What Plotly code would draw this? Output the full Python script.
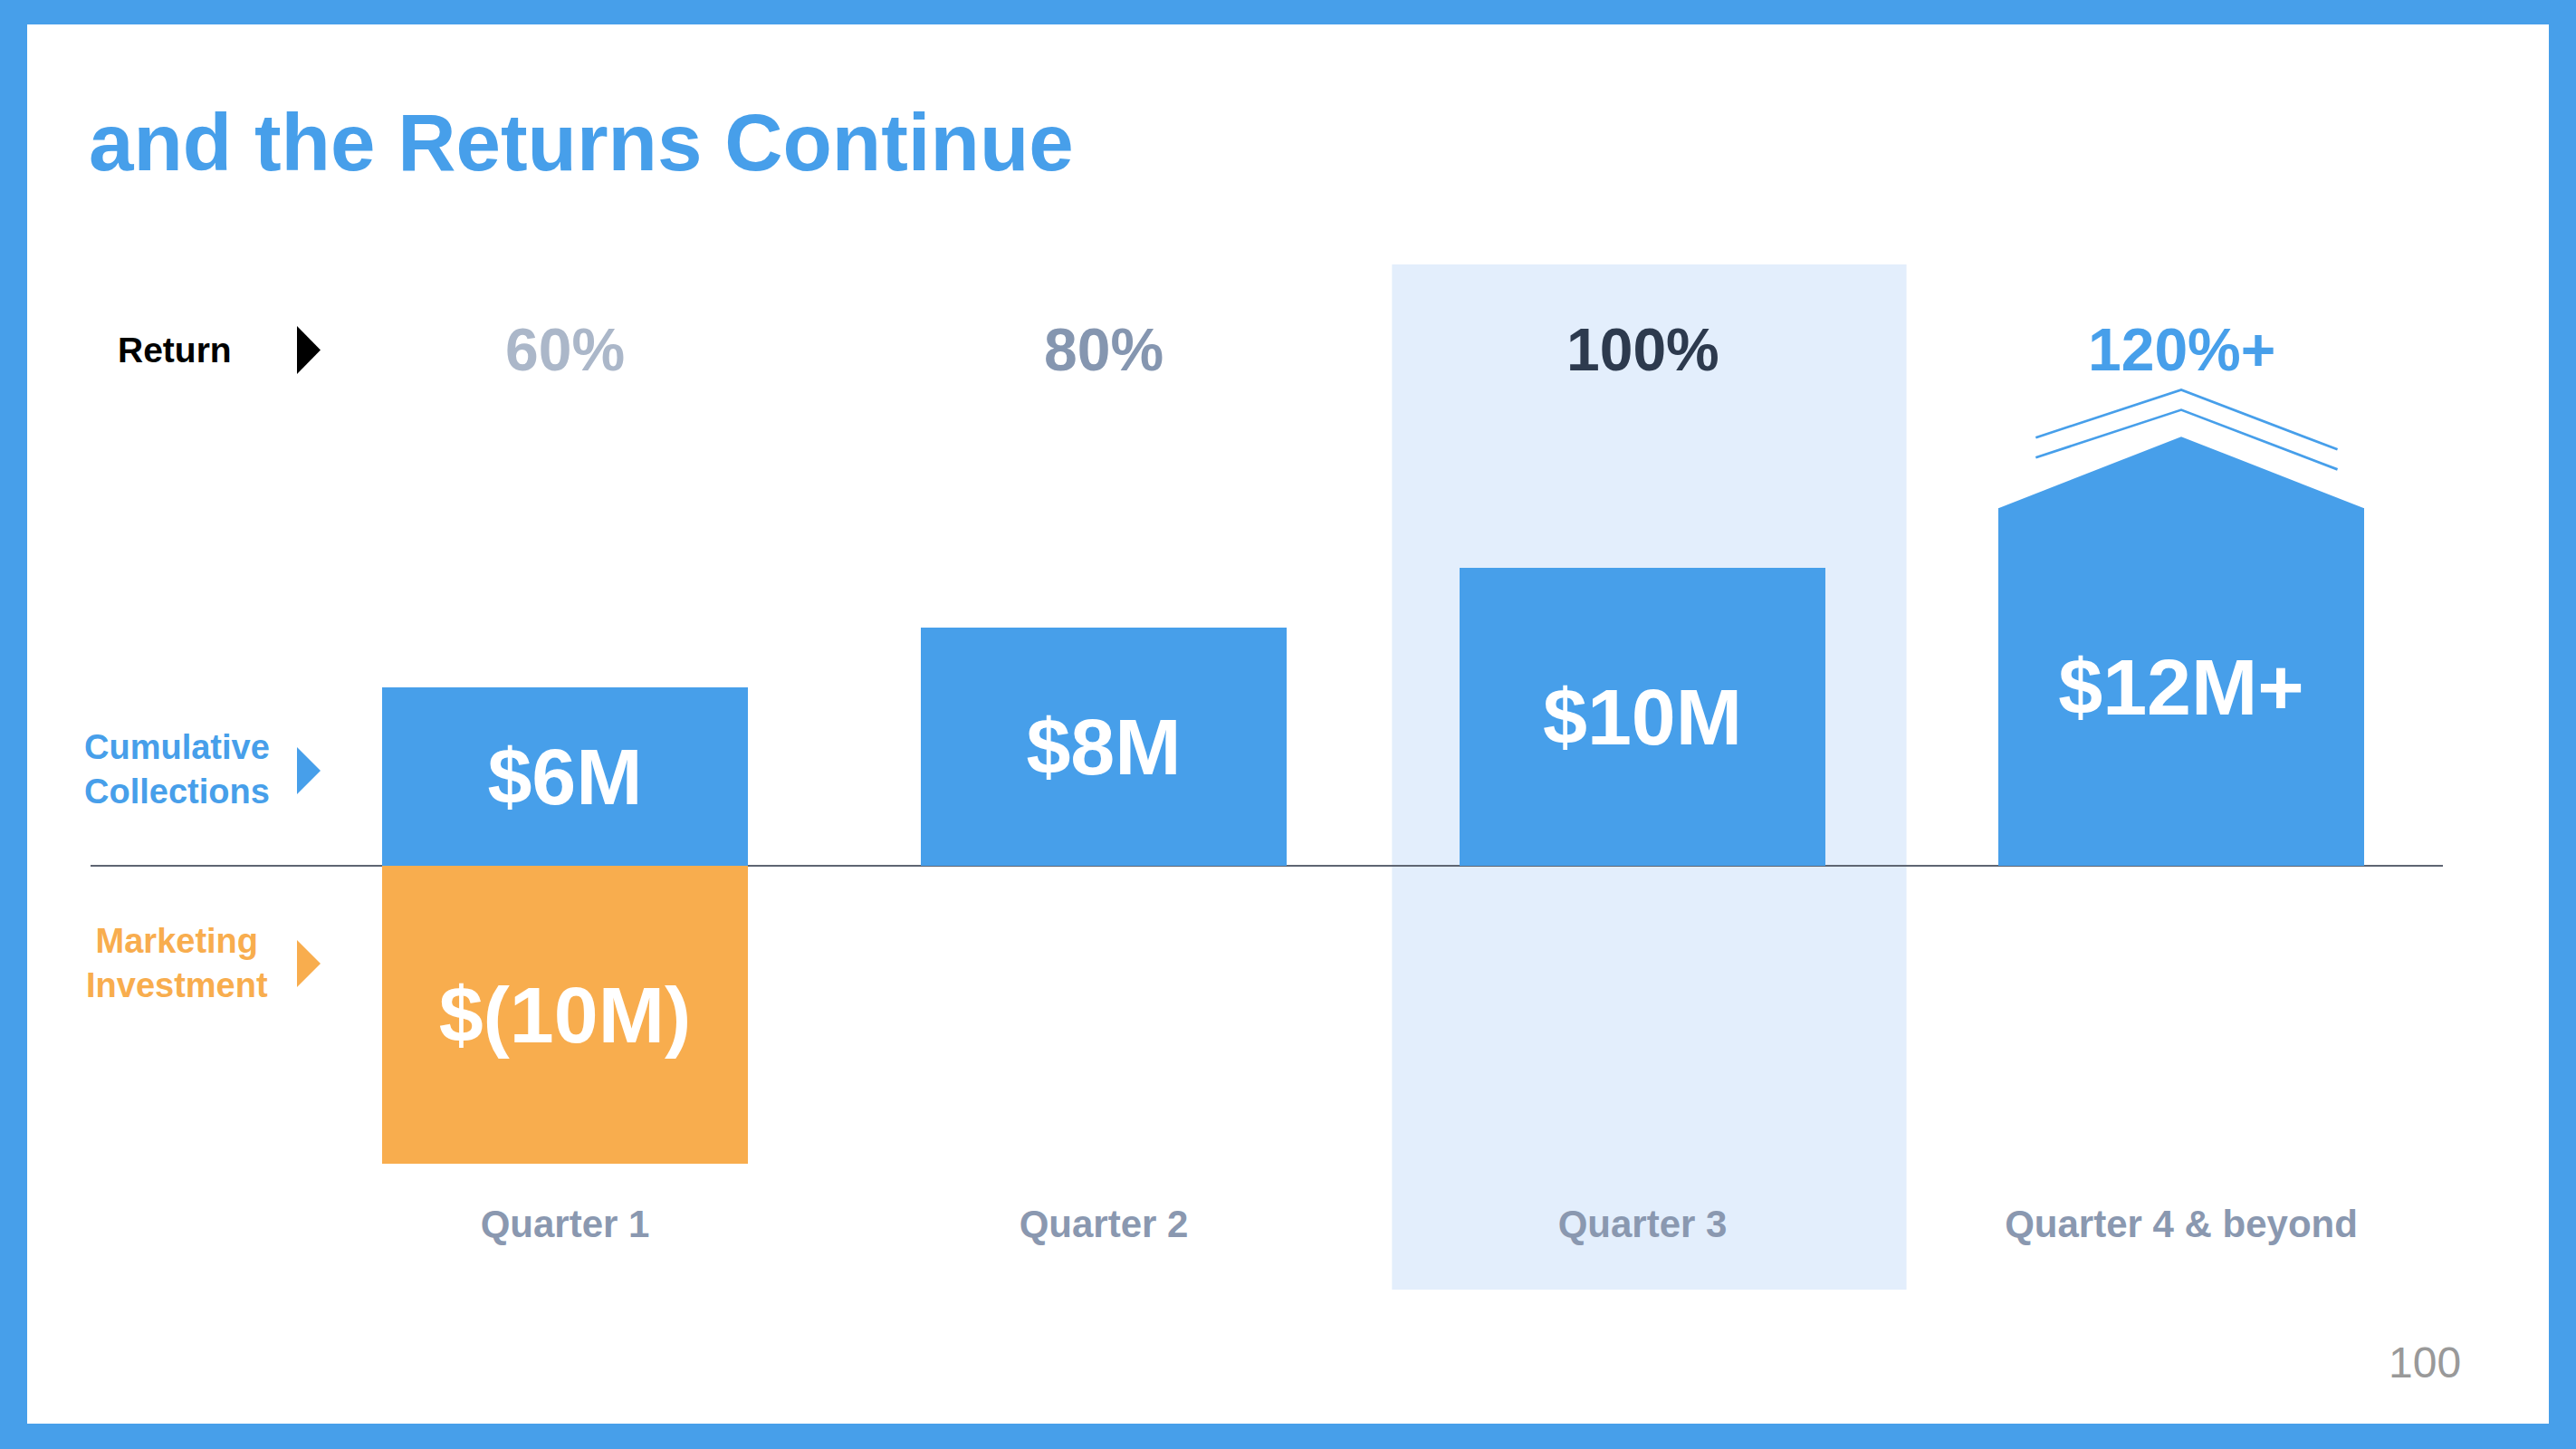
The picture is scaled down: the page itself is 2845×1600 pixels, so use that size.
import plotly.graph_objects as go

# ---------------- data ----------------
quarters = ["Quarter 1", "Quarter 2", "Quarter 3", "Quarter 4 & beyond"]
collections = [6, 8, 10, 12]                      # $M cumulative collections
collections_text = ["$6M", "$8M", "$10M", "$12M+"]
investment = [-10, None, None, None]              # $M marketing investment
investment_text = ["$(10M)", "", "", ""]
returns = ["60%", "80%", "100%", "120%+"]
highlight_index = 2
page_number = "100"

# ---------------- style ----------------
BLUE = "#479FEA"
ORANGE = "#F8AD4E"
HIGHLIGHT = "#E3EEFC"
RET_COLORS = ["#ABB7C9", "#8596B0", "#2D3A4E", BLUE]
QCOLOR = "#8A98B0"
FONT = "Liberation Sans"

W, H = 2845, 1600
L, R, T, B = 100, 2698, 292, 1300          # plot area in pixels
XR = [-0.8807, 3.4857]
YR = [-10.456, 20.18]


def px(xp):
    return (xp - L) / (R - L)


def py(yp):
    return (B - yp) / (B - T)


def dx(xv):
    return (xv - XR[0]) / (XR[1] - XR[0])


xs = list(range(len(quarters)))
BAR_W = 0.679

fig = go.Figure()
fig.add_trace(go.Bar(
    x=xs, y=collections, width=BAR_W, marker=dict(color=BLUE, line=dict(width=0)),
    text=collections_text, textposition="inside", insidetextanchor="middle",
    textangle=0, constraintext="none",
    textfont=dict(family=FONT, size=88, color="white", weight="bold"),
    hoverinfo="skip", showlegend=False))
fig.add_trace(go.Bar(
    x=xs, y=investment, width=BAR_W, marker=dict(color=ORANGE, line=dict(width=0)),
    text=investment_text, textposition="inside", insidetextanchor="middle",
    textangle=0, constraintext="none",
    textfont=dict(family=FONT, size=88, color="white", weight="bold"),
    hoverinfo="skip", showlegend=False))

shapes = []
# white slide card inside blue frame
shapes.append(dict(type="rect", xref="paper", yref="paper", layer="below",
                   x0=px(30), x1=px(2815), y0=py(1572), y1=py(27),
                   fillcolor="white", line=dict(width=0)))
# highlight column
hc = xs[highlight_index]
shapes.append(dict(type="rect", xref="paper", yref="paper", layer="below",
                   x0=dx(hc - 0.465), x1=dx(hc + 0.49), y0=py(1424), y1=py(292),
                   fillcolor=HIGHLIGHT, line=dict(width=0)))

# roof on last bar
q4 = xs[-1]
v4 = collections[-1]
hw = BAR_W / 2
shapes.append(dict(type="path", xref="x", yref="y", layer="above",
                   path=f"M {q4-hw},{v4} L {q4},{v4+2.4} L {q4+hw},{v4} Z",
                   fillcolor=BLUE, line=dict(width=0)))
for off in (0, 0.67):
    shapes.append(dict(type="path", xref="x", yref="y", layer="above",
                       path=f"M {q4-0.27},{v4+1.7+off} L {q4},{v4+3.3+off} L {q4+0.29},{v4+1.3+off}",
                       line=dict(color=BLUE, width=2.7)))

# row marker triangles
for (y0, y1, col) in [(360, 413, "black"), (825, 877, BLUE), (1038, 1090, ORANGE)]:
    shapes.append(dict(type="path", xref="paper", yref="paper", layer="above",
                       path=f"M {px(328)},{py(y0)} L {px(354)},{py((y0+y1)/2)} L {px(328)},{py(y1)} Z",
                       fillcolor=col, line=dict(width=0)))

ann = []
ann.append(dict(text="and the Returns Continue", xref="paper", yref="paper",
                x=px(96), y=py(157), xanchor="left", yanchor="middle", showarrow=False,
                font=dict(family=FONT, size=89, color=BLUE, weight="bold")))
ann.append(dict(text="Return", xref="paper", yref="paper", x=px(193), y=py(386),
                xanchor="center", yanchor="middle", showarrow=False,
                font=dict(family=FONT, size=39, color="black", weight="bold")))
ann.append(dict(text="Cumulative<br>Collections", xref="paper", yref="paper", x=px(195), y=py(849),
                xanchor="center", yanchor="middle", showarrow=False, align="center",
                font=dict(family=FONT, size=38, color=BLUE, weight="bold")))
ann.append(dict(text="Marketing<br>Investment", xref="paper", yref="paper", x=px(195), y=py(1063),
                xanchor="center", yanchor="middle", showarrow=False, align="center",
                font=dict(family=FONT, size=38, color=ORANGE, weight="bold")))
for i, (r, c) in enumerate(zip(returns, RET_COLORS)):
    ann.append(dict(text=r, xref="x", yref="paper", x=xs[i], y=py(386),
                    xanchor="center", yanchor="middle", showarrow=False,
                    font=dict(family=FONT, size=66, color=c, weight="bold")))
ann.append(dict(text=page_number, xref="paper", yref="paper", x=px(2678), y=py(1504),
                xanchor="center", yanchor="middle", showarrow=False,
                font=dict(family=FONT, size=48, color="#999999")))

fig.update_layout(
    width=W, height=H, autosize=False,
    margin=dict(l=L, r=W - R, t=T, b=H - B, pad=0),
    paper_bgcolor=BLUE, plot_bgcolor="rgba(0,0,0,0)",
    barmode="relative", bargap=0,
    shapes=shapes, annotations=ann, showlegend=False,
    xaxis=dict(range=XR, tickvals=xs, ticktext=quarters, ticks="", showgrid=False,
               zeroline=False, showline=False, fixedrange=True, ticklabelstandoff=23,
               tickfont=dict(family=FONT, size=42, color=QCOLOR, weight="bold")),
    yaxis=dict(range=YR, showticklabels=False, ticks="", showgrid=False,
               zeroline=True, zerolinecolor="#5E6572", zerolinewidth=2,
               showline=False, fixedrange=True),
)

fig.write_html("out.html", config={"displayModeBar": False},
               post_script="document.body.style.margin='0';")
